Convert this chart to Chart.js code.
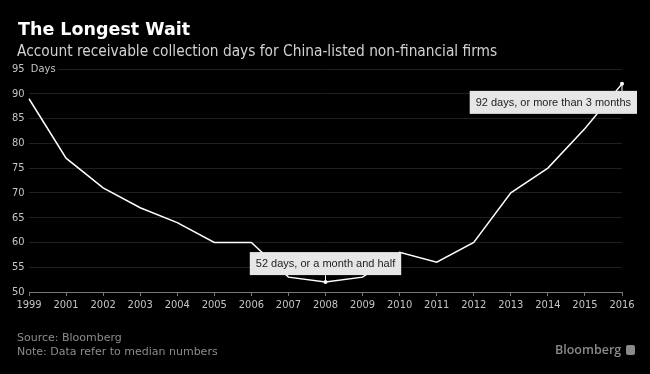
<!DOCTYPE html>
<html>
<head>
<meta charset="utf-8">
<script src="https://cdn.jsdelivr.net/npm/chart.js@4.4.1/dist/chart.umd.min.js"></script>
<style>
  html, body { margin: 0; padding: 0; background: #000; }
  #wrap { position: relative; width: 650px; height: 374px; background: #000; overflow: hidden; }
  #chart { position: absolute; left: 0; top: 0; }
  .txt { position: absolute; white-space: nowrap; line-height: 1; }
  #title { left: 18px; top: 19px; font: 700 17.5px "DejaVu Sans", sans-serif; color: #fff; }
  #subtitle { left: 17px; top: 41.5px; font: 15.3px "DejaVu Sans Condensed", sans-serif; color: #d2d2d2; }
  #source { left: 17px; top: 331px; font: 11px "DejaVu Sans", sans-serif; color: #8c8c8c; }
  #note { left: 17px; top: 345px; font: 11px "DejaVu Sans", sans-serif; color: #8c8c8c; }
  #brand { left: 555px; top: 341px; font: 600 12.5px "Open Sans", sans-serif; color: #8a8a8a; }
  #logo { position: absolute; left: 626px; top: 345px; width: 9px; height: 10px; border-radius: 2px; background: #8a8a8a; }
</style>
</head>
<body>
<div id="wrap">
  <canvas id="chart" width="650" height="374"></canvas>
  <div class="txt" id="title">The Longest Wait</div>
  <div class="txt" id="subtitle">Account receivable collection days for China-listed non-financial firms</div>
  <div class="txt" id="source">Source: Bloomberg</div>
  <div class="txt" id="note">Note: Data refer to median numbers</div>
  <div class="txt" id="brand">Bloomberg</div>
  <div id="logo"></div>
</div>
<script>
const years = ['1999', '2001', '2002', '2003', '2004', '2005', '2006', '2007', '2008',
    '2009', '2010', '2011', '2012', '2013', '2014', '2015', '2016'];
const days = [89, 77, 71, 67, 64, 60, 60, 53, 52, 53, 58, 56, 60, 70, 75, 83, 92];
const yTicks = [50, 55, 60, 65, 70, 75, 80, 85, 90, 95];
const yUnit = 'Days';
const noteYears = ['2008', '2016'];
const noteTexts = ['52 days, or a month and half', '92 days, or more than 3 months'];

// callout boxes with a little pointer to the point
const notePlugin = {
    id: 'notes',
    afterDatasetsDraw(chart) {
        const ctx = chart.ctx;
        const meta = chart.getDatasetMeta(0);
        ctx.save();
        ctx.font = '11px "Liberation Sans", Arial, sans-serif';
        noteYears.forEach((yr, i) => {
            const pt = meta.data[years.indexOf(yr)];
            const text = noteTexts[i];
            const w = ctx.measureText(text).width + 12;
            const h = 23;
            let bx = pt.x - w / 2;
            if (bx + w > chart.width - 13) {
                bx = chart.width - 13 - w;
            }
            const below = pt.y - chart.chartArea.top < 40;
            const by = below ? pt.y + 7 : pt.y - 7 - h;
            ctx.fillStyle = '#e6e6e6';
            ctx.fillRect(bx, by, w, h);
            ctx.fillStyle = '#222';
            ctx.textBaseline = 'middle';
            ctx.textAlign = 'left';
            ctx.fillText(text, bx + 6, by + h / 2 + 0.5);
            ctx.strokeStyle = '#fff';
            ctx.lineWidth = 1;
            ctx.beginPath();
            ctx.moveTo(pt.x, pt.y);
            ctx.lineTo(pt.x, below ? by : by + h);
            ctx.stroke();
            ctx.fillStyle = '#fff';
            ctx.beginPath();
            ctx.arc(pt.x, pt.y, 2, 0, Math.PI * 2);
            ctx.fill();
        });
        ctx.restore();
    }
};

const tickFont = { family: '"DejaVu Sans Condensed", sans-serif', size: 11 };

new Chart(document.getElementById('chart'), {
    type: 'line',
    data: {
        labels: years,
        datasets: [{
            data: days,
            borderColor: '#fff',
            borderWidth: 1.5,
            pointRadius: 0,
            tension: 0
        }]
    },
    options: {
        responsive: false,
        animation: false,
        devicePixelRatio: 1,
        layout: { padding: { left: 12, right: 28, top: 69, bottom: 62 } },
        plugins: {
            legend: { display: false },
            tooltip: { enabled: false }
        },
        scales: {
            x: {
                offset: false,
                grid: {
                    drawOnChartArea: false,
                    color: '#777',
                    tickLength: 4
                },
                border: { color: '#777' },
                ticks: {
                    color: '#c4c4c4',
                    font: tickFont,
                    maxRotation: 0,
                    autoSkip: false,
                    padding: 3
                },
                afterFit: s => { s.height = 20; }
            },
            y: {
                min: yTicks[0],
                max: yTicks[yTicks.length - 1],
                afterBuildTicks: s => { s.ticks = yTicks.map(v => ({ value: v })); },
                grid: { color: '#202020', drawTicks: false },
                border: { display: false },
                ticks: {
                    color: '#c4c4c4',
                    font: tickFont,
                    mirror: true,
                    padding: -17,
                    showLabelBackdrop: true,
                    backdropColor: '#000',
                    backdropPadding: { x: 3, y: 1 },
                    callback: v => v === yTicks[yTicks.length - 1] ? v + '  ' + yUnit : v
                },
                afterFit: s => { s.width = 17; }
            }
        }
    },
    plugins: [notePlugin]
});
</script>
</body>
</html>
